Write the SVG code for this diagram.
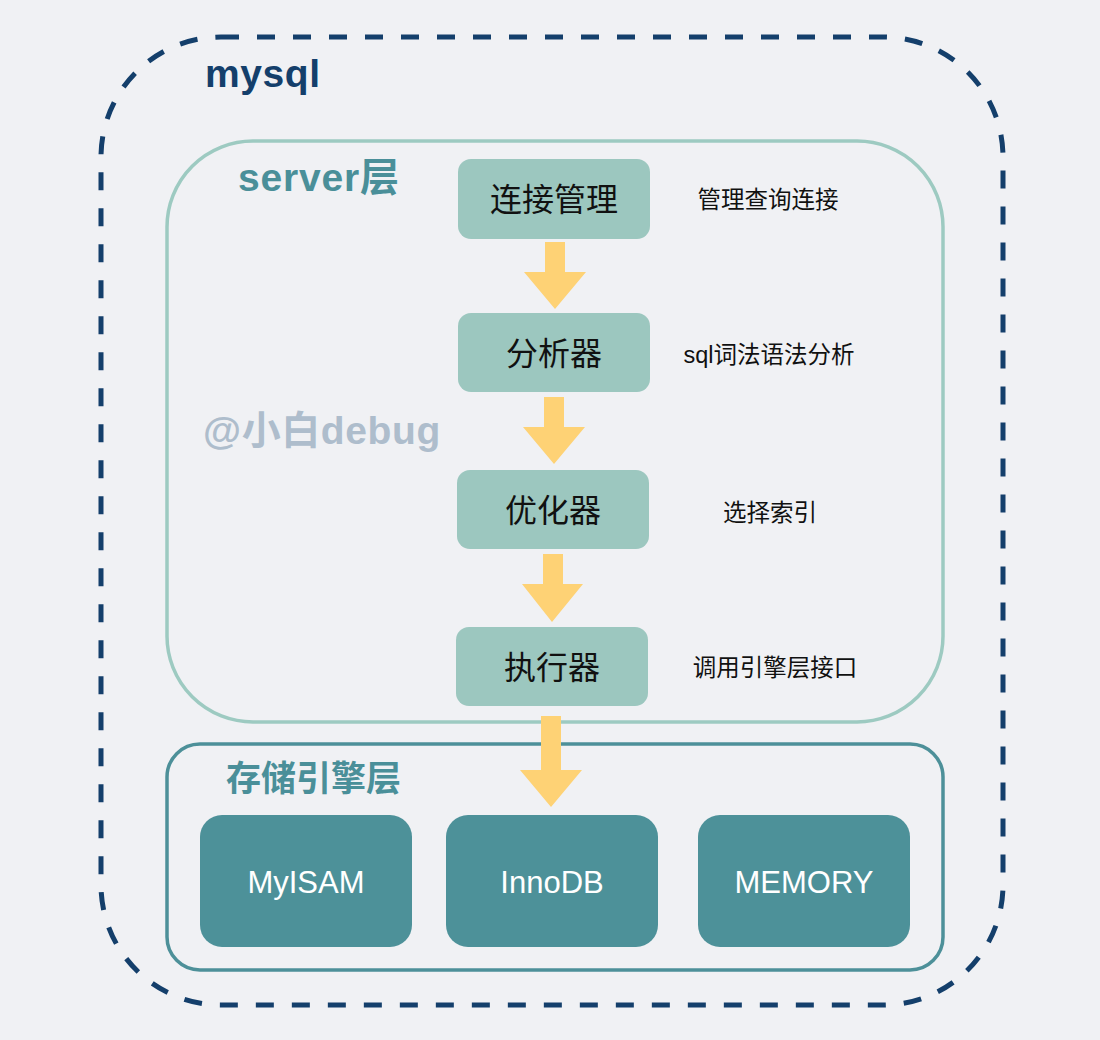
<svg xmlns="http://www.w3.org/2000/svg" width="1100" height="1040" viewBox="0 0 1100 1040">
<style>
.bg{fill:#f0f1f4}
.outer{fill:none;stroke:#143f6b;stroke-width:5;stroke-dasharray:18 18}
.server{fill:none;stroke:#9dcac1;stroke-width:3.5}
.storage{fill:none;stroke:#4d9099;stroke-width:3.5}
.step{fill:#9cc7bf}
.engine{fill:#4d9199}
.arrow{fill:#fed275}
.cjk{font-family:"Liberation Sans","Noto Sans CJK SC",sans-serif}
.title{font-weight:bold}
.steptext{font-size:32px;fill:#111;text-anchor:middle}
.note{font-size:23.5px;fill:#111;text-anchor:middle}
.engtext{font-size:31px;fill:#fff;text-anchor:middle}
</style>
<rect class="bg" x="0" y="0" width="1100" height="1040"/>
<g id="mysql">
<rect class="outer" x="101" y="37" width="902" height="968" rx="120" ry="120"/>
<text class="cjk title" x="205" y="87" font-size="39" letter-spacing="0.6" fill="#143f6b">mysql</text>
</g>
<g id="server">
<rect class="server" x="167" y="141" width="776" height="581" rx="86" ry="86"/>
<text class="cjk title" x="238" y="191" font-size="39" letter-spacing="0.8" fill="#4a8f99">server层</text>
<text class="cjk title" x="203" y="444" font-size="39" letter-spacing="0.6" fill="#aebdcc">@小白debug</text>
</g>
<g id="storage">
<rect class="storage" x="167" y="744" width="776" height="226" rx="33" ry="33"/>
<text class="cjk title" x="226" y="791" font-size="35" fill="#4a8f99">存储引擎层</text>
</g>
<g id="node-conn">
<rect class="step" x="458" y="159" width="192" height="80" rx="13"/>
<text class="cjk steptext" x="554" y="211">连接管理</text>
<text class="cjk note" x="768" y="208">管理查询连接</text>
</g>
<g id="node-analyzer">
<rect class="step" x="458" y="313" width="192" height="79" rx="13"/>
<text class="cjk steptext" x="554" y="365">分析器</text>
<text class="cjk note" x="769" y="363">sql词法语法分析</text>
</g>
<g id="node-optimizer">
<rect class="step" x="457" y="470" width="192" height="79" rx="13"/>
<text class="cjk steptext" x="553" y="522">优化器</text>
<text class="cjk note" x="770" y="521">选择索引</text>
</g>
<g id="node-executor">
<rect class="step" x="456" y="627" width="192" height="79" rx="13"/>
<text class="cjk steptext" x="552" y="679">执行器</text>
<text class="cjk note" x="775" y="676">调用引擎层接口</text>
</g>
<g id="engine-myisam">
<rect class="engine" x="200" y="815" width="212" height="132" rx="22"/>
<text class="cjk engtext" x="306" y="893">MyISAM</text>
</g>
<g id="engine-innodb">
<rect class="engine" x="446" y="815" width="212" height="132" rx="22"/>
<text class="cjk engtext" x="552" y="893">InnoDB</text>
</g>
<g id="engine-memory">
<rect class="engine" x="698" y="815" width="212" height="132" rx="22"/>
<text class="cjk engtext" x="804" y="893">MEMORY</text>
</g>
<g id="connectors">
<polygon class="arrow" points="545,242 565,242 565,272 586,272 555,309 524,272 545,272"/>
<polygon class="arrow" points="544,397 564,397 564,427 585,427 554,464 523,427 544,427"/>
<polygon class="arrow" points="543,554 563,554 563,584 583,584 552,622 522,584 543,584"/>
<polygon class="arrow" points="541,716 561,716 561,770 582,770 551,807 520,770 541,770"/>
</g>
</svg>
